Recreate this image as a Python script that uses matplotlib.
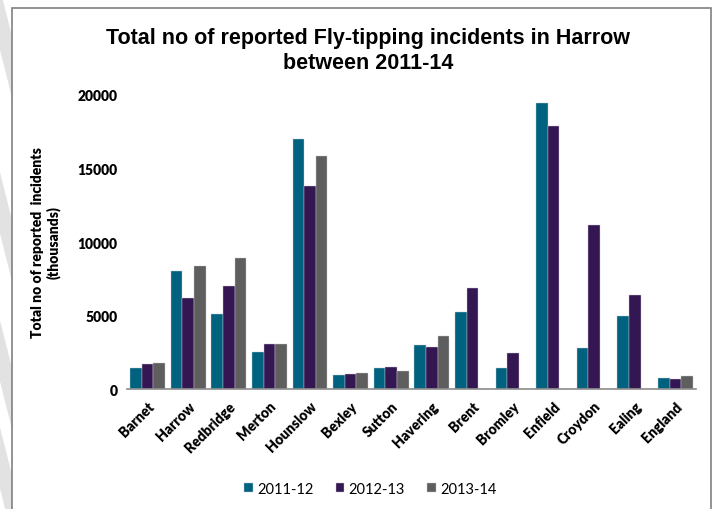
import matplotlib.pyplot as plt
import numpy as np
from matplotlib.patches import Rectangle, Polygon

# data
boroughs = ['Barnet', 'Harrow', 'Redbridge', 'Merton', 'Hounslow', 'Bexley', 'Sutton',
            'Havering', 'Brent', 'Bromley', 'Enfield', 'Croydon', 'Ealing', 'England']
y2011 = [1450, 8000, 5120, 2540, 17010, 980, 1450, 2970, 5220, 1450, 19460, 2770, 4970, 750]
y2012 = [1680, 6190, 7010, 3060, 13830, 1020, 1520, 2860, 6890, 2490, 17890, 11160, 6370, 700]
y2013 = [1770, 8390, 8930, 3060, 15830, 1070, 1250, 3610, 0, 0, 0, 0, 0, 880]
series = ['2011-12', '2012-13', '2013-14']
colours = ['#00627f', '#341752', '#5e5e5e']

fig = plt.figure(figsize=(7.15, 5.10), dpi=100)

# watermark stripes on the left edge, behind the chart box
for y0 in [1.02, 0.66, 0.37, 0.16]:
    fig.patches.append(Polygon([(0, y0), (0.018, y0 - 0.1), (0.018, y0 - 0.22), (0, y0 - 0.12)],
                               closed=True, transform=fig.transFigure, facecolor='#e2e2e2',
                               edgecolor='none', zorder=0))
# chart box
fig.patches.append(Rectangle((0.017, -0.01), 0.978, 0.993, transform=fig.transFigure,
                             facecolor='white', edgecolor='#808080', lw=1.2, zorder=1))

ax = fig.add_axes([0.178, 0.235, 0.795, 0.577])
ax.set_zorder(2)
ax.patch.set_alpha(0)

x = np.arange(len(boroughs))
w = 0.285
for i, (vals, lab, c) in enumerate(zip([y2011, y2012, y2013], series, colours)):
    ax.bar(x + (i - 1) * w, vals, width=w, color=c, label=lab, edgecolor='#c8c8d0', linewidth=0.3)

ax.set_xlim(-0.5, len(boroughs) - 0.5)
ax.set_ylim(0, 20000)
ax.set_yticks([0, 5000, 10000, 15000, 20000])
ax.set_yticklabels(['0', '5000', '10000', '15000', '20000'], fontsize=10, fontweight='heavy',
                   family='Lato')
ax.set_xticks(x)
ax.set_xticklabels(boroughs, rotation=45, ha='right', rotation_mode='anchor', fontsize=10,
                   fontweight='heavy', family='Lato')
ax.tick_params(axis='both', length=0, pad=7)
for s in ['top', 'right', 'left']:
    ax.spines[s].set_visible(False)
ax.spines['bottom'].set_color('#8c8c8c')
ax.spines['bottom'].set_linewidth(1.2)

ax.set_ylabel('Total no of reported  incidents\n(thousands)', fontsize=10, fontweight='heavy',
              family='Lato', labelpad=12)

fig.text(0.515, 0.9, 'Total no of reported Fly-tipping incidents in Harrow\nbetween 2011-14',
         ha='center', va='center', fontsize=15.5, fontweight='bold', family='Liberation Sans',
         linespacing=1.25)

fig.legend(loc='center', bbox_to_anchor=(0.518, 0.04), ncol=3, frameon=False,
           prop={'family': 'Lato', 'size': 10.5}, handlelength=0.6, handleheight=0.6,
           handletextpad=0.3, columnspacing=1.5)

fig.savefig('out.png', dpi=100)
